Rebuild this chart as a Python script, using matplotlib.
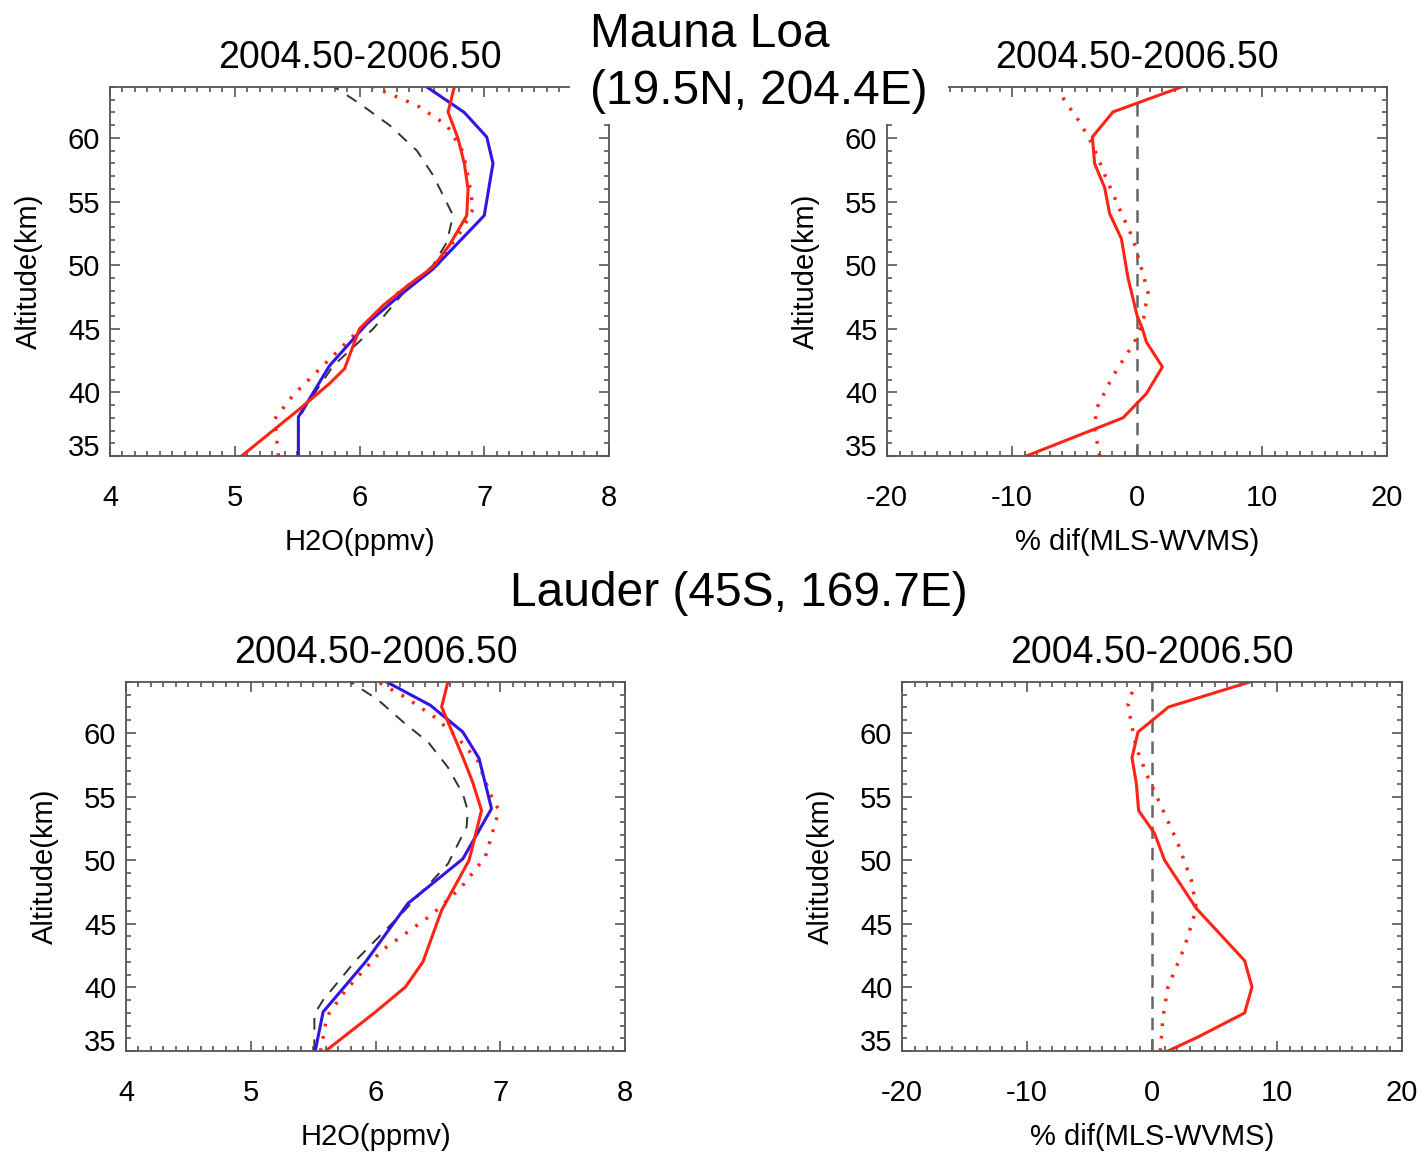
import matplotlib

matplotlib.use("Agg")
import matplotlib.pyplot as plt
from matplotlib.patches import Rectangle
from matplotlib.ticker import FixedLocator, MultipleLocator

plt.rcParams["font.family"] = ["Liberation Sans", "DejaVu Sans"]
plt.rcParams["axes.unicode_minus"] = False

RED = "#FF2414"
BLUE = "#3214E6"
DARK = "#333333"
FRAME = "#555555"

TITLE = "2004.50-2006.50"
ALT_TICKS = [35, 40, 45, 50, 55, 60]

# Mauna Loa, H2O profiles (ppmv) vs altitude (km)
ml_blue_x = [5.51, 5.51, 5.575, 5.76, 6.06, 6.32, 6.59, 7.0, 7.07, 7.02, 6.84, 6.54]
ml_blue_z = [35.0, 38.07, 39.1, 42.1, 45.4, 47.6, 49.7, 53.9, 58.0, 60.07, 62.0, 64.0]
ml_red_x = [5.055, 5.52, 5.76, 5.88, 6.0, 6.19, 6.40, 6.59, 6.72, 6.86, 6.87, 6.84, 6.79, 6.71, 6.76]
ml_red_z = [35.0, 38.7, 40.7, 41.86, 45.0, 46.84, 48.5, 49.85, 51.56, 53.9, 56.0, 58.0, 59.94, 62.04, 64.0]
ml_rdot_x = [5.35, 5.32, 5.47, 5.79, 6.06, 6.32, 6.62, 6.83, 6.91, 6.88, 6.83, 6.70, 6.46, 6.11]
ml_rdot_z = [35.0, 37.9, 39.8, 42.9, 45.5, 47.9, 50.0, 52.9, 54.4, 56.5, 58.9, 61.0, 62.56, 64.0]
ml_dash_x = [5.51, 5.51, 5.575, 5.79, 6.11, 6.38, 6.59, 6.70, 6.75, 6.71, 6.59, 6.46, 6.24, 6.0, 5.80]
ml_dash_z = [35.0, 37.9, 39.0, 42.1, 45.0, 48.15, 50.0, 51.8, 53.9, 54.7, 57.06, 59.0, 61.0, 62.7, 64.0]

# Mauna Loa, % difference
ml_dif_x = [-8.85, -1.12, 0.75, 2.03, 0.75, 0.43, 0.0, -0.72, -1.25, -2.19, -2.59, -3.39, -3.57, -1.92, 3.55]
ml_dif_z = [35.0, 38.0, 39.9, 42.0, 43.96, 45.0, 46.06, 49.0, 52.08, 54.05, 56.1, 57.98, 60.07, 62.04, 64.0]
ml_difdot_x = [-2.99, -3.39, -3.25, -1.92, -0.19, 0.48, 0.88, 0.21, -0.32, -1.39, -2.45, -3.52, -4.59, -5.52, -6.32]
ml_difdot_z = [35.0, 37.15, 38.7, 41.3, 43.96, 45.5, 47.9, 50.25, 52.08, 54.4, 56.8, 59.4, 61.25, 62.56, 63.74]

# Lauder, H2O profiles
la_blue_x = [5.517, 5.58, 5.92, 6.26, 6.70, 6.93, 6.83, 6.70, 6.44, 6.09]
la_blue_z = [35.0, 38.07, 42.0, 46.6, 50.1, 54.05, 58.0, 60.07, 62.17, 64.0]
la_red_x = [5.60, 6.0, 6.24, 6.38, 6.53, 6.75, 6.85, 6.78, 6.70, 6.53, 6.58]
la_red_z = [35.0, 38.07, 40.03, 42.0, 46.06, 49.99, 53.9, 56.1, 58.1, 62.04, 64.0]
la_rdot_x = [5.56, 5.61, 5.76, 6.05, 6.45, 6.69, 6.88, 6.99, 6.92, 6.82, 6.66, 6.48, 6.24, 6.02]
la_rdot_z = [35.0, 37.7, 39.77, 42.9, 45.7, 47.9, 50.25, 53.9, 55.2, 57.8, 59.6, 61.2, 62.8, 64.0]
la_dash_x = [5.51, 5.51, 5.58, 5.84, 6.21, 6.58, 6.73, 6.74, 6.70, 6.58, 6.42, 6.24, 6.02, 5.80]
la_dash_z = [35.0, 37.9, 39.0, 42.1, 45.8, 49.7, 52.6, 53.9, 55.2, 57.3, 59.3, 60.7, 62.6, 64.0]

# Lauder, % difference
la_dif_x = [1.28, 3.68, 7.41, 8.0, 7.41, 3.55, 1.01, 0.21, -1.07, -1.25, -1.6, -1.12, 1.33, 7.81]
la_dif_z = [35.0, 36.1, 37.99, 40.03, 42.1, 46.2, 49.99, 52.08, 53.9, 56.0, 58.05, 60.07, 62.04, 64.0]
la_difdot_x = [0.67, 0.88, 1.28, 2.61, 3.55, 3.15, 2.08, 1.01, -0.32, -1.25, -1.65, -1.92, -1.44]
la_difdot_z = [35.0, 37.7, 40.03, 43.2, 46.2, 48.4, 51.3, 53.65, 56.5, 58.8, 60.7, 62.3, 63.6]

W, H = 1424, 1153
fig = plt.figure(figsize=(W / 100, H / 100), dpi=100)
fig.patch.set_facecolor("white")


def px_axes(x0, y0, x1, y1):
    return fig.add_axes([x0 / W, 1 - y1 / H, (x1 - x0) / W, (y1 - y0) / H])


def style(ax, xlim, xmajor, xminor, xlabel):
    ax.set_xlim(*xlim)
    ax.set_ylim(35, 64)
    ax.xaxis.set_major_locator(MultipleLocator(xmajor))
    ax.xaxis.set_minor_locator(MultipleLocator(xminor))
    ax.yaxis.set_major_locator(FixedLocator(ALT_TICKS))
    ax.yaxis.set_minor_locator(MultipleLocator(1))
    ax.tick_params(which="both", direction="in", top=True, right=True,
                   color=FRAME, width=1.2)
    ax.tick_params(which="major", length=7)
    ax.tick_params(which="minor", length=3.5)
    ax.tick_params(axis="x", labelsize=21, pad=20)
    ax.tick_params(axis="y", labelsize=21, pad=7)
    for spine in ax.spines.values():
        spine.set_color(FRAME)
        spine.set_linewidth(1.3)
    ax.set_xlabel(xlabel, fontsize=21, labelpad=12)
    ax.set_ylabel("Altitude(km)", fontsize=21, labelpad=18)
    ax.set_title(TITLE, fontsize=27, pad=14)
    # bottom "35" label sits a little above its tick, as in the original
    ax.yaxis.get_major_ticks()[0].label1.set_va("baseline")


def profiles(ax, bx, bz, rx, rz, dx, dz, kx, kz):
    ax.plot(kx, kz, color=DARK, lw=1.4, ls=(0, (6, 5)))
    ax.plot(dx, dz, color=RED, lw=2.5, ls=(0, (0.8, 2.8)))
    ax.plot(bx, bz, color=BLUE, lw=2.2)
    ax.plot(rx, rz, color=RED, lw=2.2)


def difs(ax, sx, sz, dx, dz):
    ax.axvline(0, color="#666666", lw=1.8, ls=(0, (5, 3.5)))
    ax.plot(dx, dz, color=RED, lw=2.5, ls=(0, (0.8, 2.8)))
    ax.plot(sx, sz, color=RED, lw=2.2)


ax1 = px_axes(110, 87, 609, 456)
profiles(ax1, ml_blue_x, ml_blue_z, ml_red_x, ml_red_z,
         ml_rdot_x, ml_rdot_z, ml_dash_x, ml_dash_z)
style(ax1, (4, 8), 1, 0.1, "H2O(ppmv)")

ax2 = px_axes(887, 87, 1387, 456)
difs(ax2, ml_dif_x, ml_dif_z, ml_difdot_x, ml_difdot_z)
style(ax2, (-20, 20), 10, 1, "% dif(MLS-WVMS)")

ax3 = px_axes(126, 682, 625, 1051)
profiles(ax3, la_blue_x, la_blue_z, la_red_x, la_red_z,
         la_rdot_x, la_rdot_z, la_dash_x, la_dash_z)
style(ax3, (4, 8), 1, 0.1, "H2O(ppmv)")

ax4 = px_axes(902, 682, 1402, 1051)
difs(ax4, la_dif_x, la_dif_z, la_difdot_x, la_difdot_z)
style(ax4, (-20, 20), 10, 1, "% dif(MLS-WVMS)")

# white box behind the site name, covering the plot frames
fig.patches.append(Rectangle((570 / W, 1 - 124 / H), (948 - 570) / W, 124 / H,
                             transform=fig.transFigure, facecolor="white",
                             edgecolor="none", zorder=5))
fig.text(590 / W, 1 - 47 / H, "Mauna Loa", fontsize=34.5, va="baseline", zorder=6)
fig.text(590 / W, 1 - 104 / H, "(19.5N, 204.4E)", fontsize=34.5, va="baseline", zorder=6)
fig.text(510 / W, 1 - 606 / H, "Lauder (45S, 169.7E)", fontsize=34.5, va="baseline", zorder=6)

fig.savefig("out.png", dpi=100, facecolor="white")
